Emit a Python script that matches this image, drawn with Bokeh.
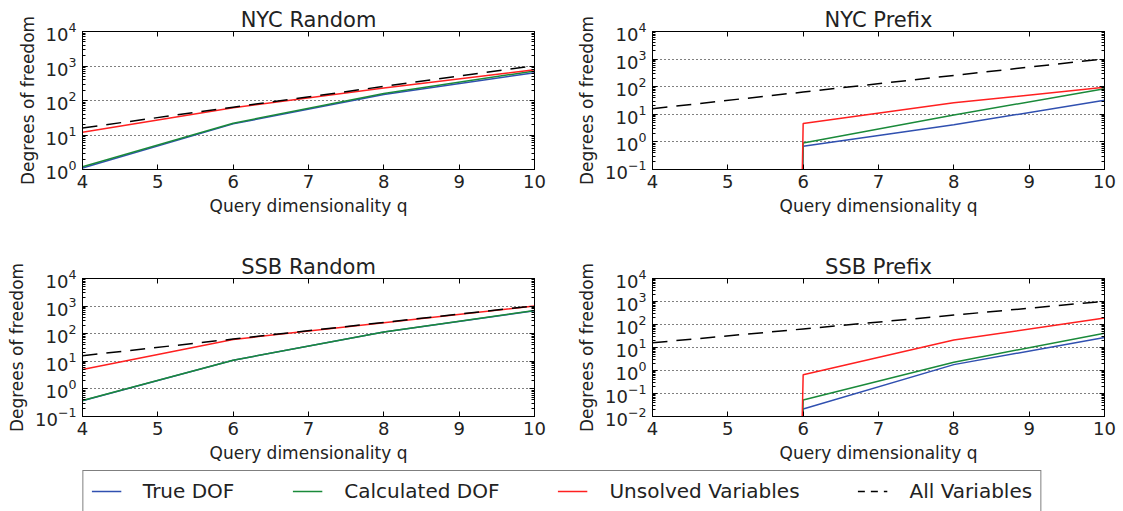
import numpy as np
from bokeh.plotting import figure
from bokeh.layouts import column, row
from bokeh.models import (Range1d, FixedTicker, LogAxis, LinearAxis, CustomJSTickFormatter,
                          Legend, LegendItem)
from bokeh.embed import file_html
from bokeh.resources import INLINE

# ---------------- data ----------------
q = [4, 6, 8, 10]
all_variables = [16, 64, 256, 1024]

nyc_random_true = [1.1, 21, 150, 640]
nyc_random_calc = [1.2, 22, 160, 720]
nyc_random_unsolved = [12, 62, 230, 780]

nyc_prefix_true = [0, 0.7, 4.2, 32]
nyc_prefix_calc = [0, 0.92, 9.4, 85]
nyc_prefix_unsolved = [0, 4.6, 26, 95]

ssb_random_true = [0.37, 11, 115, 680]
ssb_random_calc = [0.38, 11, 115, 690]
ssb_random_unsolved = [5, 62, 250, 1000]

ssb_prefix_true = [0, 0.021, 1.8, 27]
ssb_prefix_calc = [0, 0.052, 2.3, 42]
ssb_prefix_unsolved = [0, 0.66, 21, 190]

series_labels = ["True DOF", "Calculated DOF", "Unsolved Variables", "All Variables"]
x_ticks = [4, 5, 6, 7, 8, 9, 10]

# ---------------- style ----------------
FONT = "DejaVu Sans"
C_BLUE = "#3050b0"
C_GREEN = "#1a8a3a"
C_RED = "#ff2020"
FRAME_W = 452
FRAME_H = 138


def clip(v):
    v = np.asarray(v, dtype=float)
    return np.where(v > 0, v, 1e-300)


def blank():
    return CustomJSTickFormatter(code="return ''")


def make_fig(title, lo_exp, true_v, calc_v, uns_v, left, right, top, bottom):
    p = figure(width=left + FRAME_W + right, height=top + FRAME_H + bottom,
               frame_width=FRAME_W, frame_height=FRAME_H,
               y_axis_type="log", x_range=Range1d(4, 10),
               y_range=Range1d(10.0 ** lo_exp, 1e4),
               output_backend="svg", toolbar_location=None,
               min_border_left=left, min_border_right=right,
               min_border_top=top, min_border_bottom=bottom,
               title=title)
    p.title.align = "center"
    p.title.text_font = FONT
    p.title.text_font_size = "21px"
    p.title.text_font_style = "normal"
    p.title.text_color = "#222222"
    p.title.standoff = 0
    p.title.offset = 0

    yt = FixedTicker(ticks=[10.0 ** k for k in range(lo_exp, 5)],
                     minor_ticks=[m * 10.0 ** k for k in range(lo_exp, 4) for m in range(2, 10)])
    xt = FixedTicker(ticks=x_ticks)

    p.yaxis.ticker = yt
    p.xaxis.ticker = xt
    for ax in p.xaxis + p.yaxis:
        ax.major_tick_in = 5
        ax.major_tick_out = 0
        ax.minor_tick_in = 3
        ax.minor_tick_out = 0
        ax.major_label_text_font = FONT
        ax.major_label_text_font_size = "18px"
        ax.major_label_text_color = "#222222"
        ax.axis_label_text_font = FONT
        ax.axis_label_text_font_size = "17px"
        ax.axis_label_text_font_style = "normal"
        ax.axis_label_text_color = "#222222"
        ax.axis_line_color = "black"
        ax.major_tick_line_color = "black"
        ax.minor_tick_line_color = "black"
    p.xaxis.minor_tick_line_color = None
    p.xaxis.axis_label = "Query dimensionality q"
    p.yaxis.axis_label = "Degrees of freedom"
    p.xaxis.major_label_standoff = 5
    p.yaxis.major_label_standoff = 6

    ra = LogAxis(ticker=yt, formatter=blank(), major_tick_in=5, major_tick_out=0,
                 minor_tick_in=3, minor_tick_out=0, axis_line_color="black",
                 major_label_standoff=0, major_label_text_font_size="1px")
    p.add_layout(ra, "right")
    ta = LinearAxis(ticker=xt, formatter=blank(), major_tick_in=5, major_tick_out=0,
                    minor_tick_line_color=None, axis_line_color="black",
                    major_label_standoff=0, major_label_text_font_size="1px")
    p.add_layout(ta, "above")

    p.xgrid.grid_line_color = None
    p.ygrid.grid_line_color = "black"
    p.ygrid.grid_line_dash = "1 3"
    p.ygrid.grid_line_width = 1
    p.outline_line_color = "black"
    p.outline_line_width = 1

    p.line(q, clip(true_v), line_color=C_BLUE, line_width=1.5)
    p.line(q, clip(calc_v), line_color=C_GREEN, line_width=1.5)
    p.line(q, clip(uns_v), line_color=C_RED, line_width=1.5)
    p.line(q, all_variables, line_color="black", line_width=1.5, line_dash="15 9")
    return p


p1 = make_fig("NYC Random", 0, nyc_random_true, nyc_random_calc, nyc_random_unsolved,
              82, 30, 31, 78)
p2 = make_fig("NYC Prefix", -1, nyc_prefix_true, nyc_prefix_calc, nyc_prefix_unsolved,
              88, 19, 31, 78)
p3 = make_fig("SSB Random", -1, ssb_random_true, ssb_random_calc, ssb_random_unsolved,
              82, 30, 31, 53)
p4 = make_fig("SSB Prefix", -2, ssb_prefix_true, ssb_prefix_calc, ssb_prefix_unsolved,
              88, 19, 31, 53)

# ---------------- legend strip ----------------
leg = figure(width=1123, height=44, x_range=Range1d(0, 1), y_range=Range1d(0, 1),
             x_axis_type=None, y_axis_type=None, output_backend="svg",
             toolbar_location=None, min_border=0, outline_line_color=None)
leg.grid.visible = False
r1 = leg.line([-5, -4], [-5, -4], line_color=C_BLUE, line_width=1.5)
r2 = leg.line([-5, -4], [-5, -4], line_color=C_GREEN, line_width=1.5)
r3 = leg.line([-5, -4], [-5, -4], line_color=C_RED, line_width=1.5)
r4 = leg.line([-5, -4], [-5, -4], line_color="black", line_width=1.5, line_dash="7 6")
legend = Legend(items=[LegendItem(label=series_labels[0], renderers=[r1]),
                       LegendItem(label=series_labels[1], renderers=[r2]),
                       LegendItem(label=series_labels[2], renderers=[r3]),
                       LegendItem(label=series_labels[3], renderers=[r4])],
                orientation="horizontal", location="center",
                label_text_font=FONT, label_text_font_size="20px",
                label_text_color="#222222",
                glyph_width=30, label_standoff=22, spacing=58,
                padding=8, margin=0,
                border_line_color="black", border_line_width=1,
                background_fill_alpha=1)
leg.add_layout(legend, "center")

layout = column(row(p1, p2), row(p3, p4), leg)
open("out.html", "w").write(file_html(layout, INLINE))
